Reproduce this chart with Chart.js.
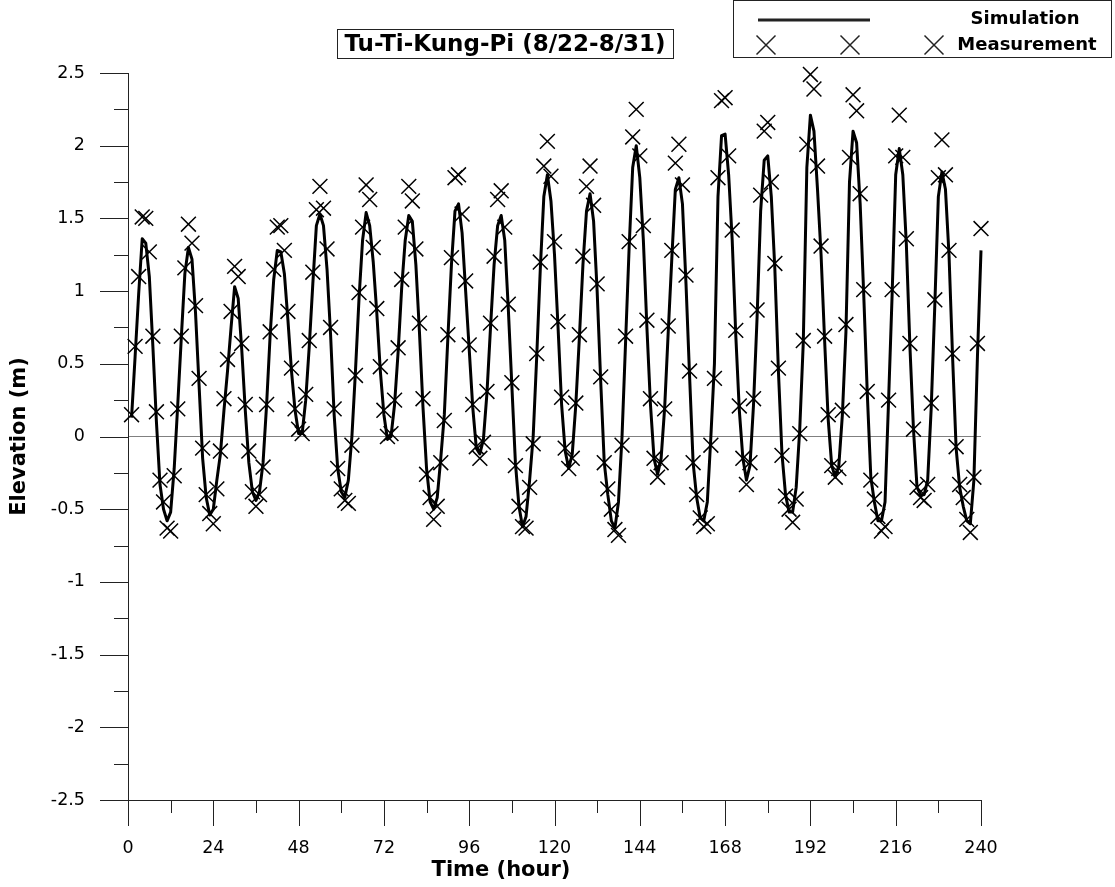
<!DOCTYPE html>
<html>
<head>
<meta charset="utf-8">
<title>Tu-Ti-Kung-Pi (8/22-8/31)</title>
<script src="https://cdn.jsdelivr.net/npm/chart.js@4.4.1/dist/chart.umd.min.js"></script>
<style>
html,body{margin:0;padding:0;background:#fff;}
#wrap{width:1115px;height:887px;}
</style>
</head>
<body>
<div id="wrap"><canvas id="chartTide" width="1115" height="887"></canvas></div>
<script>

// hourly series, first sample at hour 1
const FIRST_HOUR = 1;

const measured = [
 0.15, 0.62, 1.10, 1.51, 1.50, 1.27, 0.69, 0.17,-0.30,-0.45,-0.63,-0.65,
-0.27, 0.19, 0.69, 1.16, 1.46, 1.33, 0.90, 0.40,-0.08,-0.40,-0.53,-0.60,
-0.36,-0.10, 0.26, 0.53, 0.86, 1.17, 1.10, 0.64, 0.22,-0.10,-0.38,-0.48,
-0.40,-0.21, 0.22, 0.72, 1.15, 1.44, 1.45, 1.28, 0.86, 0.47, 0.19, 0.05,
 0.02, 0.29, 0.66, 1.13, 1.56, 1.72, 1.57, 1.29, 0.75, 0.19,-0.22,-0.36,
-0.44,-0.46,-0.06, 0.42, 0.99, 1.44, 1.73, 1.63, 1.30, 0.88, 0.48, 0.18,
 0.00, 0.02, 0.25, 0.61, 1.08, 1.44, 1.72, 1.62, 1.29, 0.78, 0.26,-0.26,
-0.42,-0.57,-0.48,-0.18, 0.11, 0.70, 1.23, 1.78, 1.80, 1.53, 1.07, 0.63,
 0.22,-0.07,-0.15,-0.04, 0.31, 0.78, 1.24, 1.63, 1.69, 1.44, 0.91, 0.37,
-0.20,-0.48,-0.62,-0.63,-0.35,-0.05, 0.57, 1.20, 1.86, 2.03, 1.79, 1.34,
 0.79, 0.27,-0.08,-0.22,-0.15, 0.23, 0.70, 1.24, 1.72, 1.86, 1.59, 1.05,
 0.41,-0.18,-0.36,-0.50,-0.64,-0.68,-0.06, 0.69, 1.34, 2.06, 2.25, 1.93,
 1.45, 0.80, 0.26,-0.15,-0.28,-0.18, 0.19, 0.76, 1.28, 1.88, 2.01, 1.73,
 1.11, 0.45,-0.18,-0.40,-0.56,-0.62,-0.60,-0.06, 0.40, 1.78, 2.31, 2.33,
 1.93, 1.42, 0.73, 0.21,-0.15,-0.33,-0.18, 0.26, 0.87, 1.66, 2.10, 2.16,
 1.75, 1.19, 0.47,-0.13,-0.41,-0.50,-0.59,-0.43, 0.02, 0.66, 2.01, 2.49,
 2.39, 1.86, 1.31, 0.69, 0.15,-0.20,-0.28,-0.22, 0.18, 0.77, 1.92, 2.35,
 2.24, 1.67, 1.01, 0.31,-0.30,-0.43,-0.55,-0.65,-0.62, 0.25, 1.01, 1.93,
 2.21, 1.92, 1.36, 0.64, 0.05,-0.35,-0.42,-0.44,-0.33, 0.23, 0.94, 1.78,
 2.04, 1.80, 1.28, 0.57,-0.07,-0.33,-0.42,-0.57,-0.66,-0.28, 0.64, 1.43
];

const simulated = [
 0.13, 0.55, 0.98, 1.36, 1.33, 1.10, 0.62, 0.10,-0.33,-0.50,-0.58,-0.52,
-0.22, 0.22, 0.68, 1.12, 1.30, 1.22, 0.85, 0.35,-0.15,-0.42,-0.54,-0.50,
-0.30,-0.12, 0.18, 0.45, 0.75, 1.03, 0.95, 0.60, 0.18,-0.18,-0.38,-0.44,
-0.38,-0.18, 0.22, 0.70, 1.08, 1.28, 1.27, 1.12, 0.80, 0.45, 0.18, 0.02,
 0.02, 0.25, 0.62, 1.05, 1.45, 1.53, 1.45, 1.15, 0.70, 0.15,-0.22,-0.38,
-0.42,-0.30, 0.00, 0.45, 0.95, 1.35, 1.54, 1.45, 1.20, 0.85, 0.45, 0.15,
-0.02, 0.00, 0.22, 0.58, 1.02, 1.35, 1.52, 1.48, 1.18, 0.72, 0.20,-0.22,
-0.45,-0.50,-0.42,-0.15, 0.15, 0.68, 1.18, 1.55, 1.60, 1.40, 1.00, 0.60,
 0.20,-0.08,-0.12,-0.02, 0.30, 0.75, 1.18, 1.45, 1.52, 1.35, 0.88, 0.35,
-0.18,-0.48,-0.62,-0.55,-0.30, 0.00, 0.55, 1.15, 1.65, 1.80, 1.62, 1.25,
 0.75, 0.22,-0.10,-0.22,-0.12, 0.22, 0.68, 1.18, 1.55, 1.67, 1.48, 1.00,
 0.38,-0.18,-0.40,-0.58,-0.63,-0.45, 0.00, 0.65, 1.30, 1.85, 2.00, 1.78,
 1.35, 0.75, 0.22,-0.15,-0.26,-0.15, 0.20, 0.72, 1.22, 1.70, 1.78, 1.60,
 1.05, 0.42,-0.18,-0.42,-0.56,-0.58,-0.45, 0.00, 0.50, 1.65, 2.07, 2.08,
 1.80, 1.35, 0.70, 0.18,-0.15,-0.30,-0.20, 0.22, 0.82, 1.55, 1.90, 1.93,
 1.65, 1.15, 0.45,-0.12,-0.40,-0.52,-0.52,-0.35, 0.05, 0.65, 1.85, 2.21,
 2.10, 1.70, 1.25, 0.66, 0.12,-0.20,-0.28,-0.20, 0.15, 0.72, 1.75, 2.10,
 2.02, 1.60, 0.98, 0.30,-0.28,-0.45,-0.58,-0.58,-0.45, 0.25, 0.98, 1.80,
 1.98, 1.80, 1.32, 0.62, 0.05,-0.35,-0.40,-0.40,-0.30, 0.20, 0.90, 1.65,
 1.82, 1.70, 1.25, 0.55,-0.08,-0.35,-0.48,-0.58,-0.60,-0.30, 0.55, 1.28
];

const xTicks = [0,24,48,72,96,120,144,168,192,216,240];
const xMinorTicks = [12,36,60,84,108,132,156,180,204,228];
const yTicks = [-2.5,-2,-1.5,-1,-0.5,0,0.5,1,1.5,2,2.5];
const yMinorTicks = [-2.25,-1.75,-1.25,-0.75,-0.25,0.25,0.75,1.25,1.75,2.25];

const chartTitle = "Tu-Ti-Kung-Pi (8/22-8/31)";
const xTitle = "Time (hour)";
const yTitle = "Elevation (m)";
const simLabel = "Simulation";
const measLabel = "Measurement";

const FONT = "'DejaVu Sans', 'Liberation Sans', Arial, sans-serif";

function toPoints(values){
  return values.map((v,i)=>({x:FIRST_HOUR+i, y:v}));
}

function drawCross(ctx,cx,cy,r){
  ctx.beginPath();
  ctx.moveTo(cx-r,cy-r); ctx.lineTo(cx+r,cy+r);
  ctx.moveTo(cx-r,cy+r); ctx.lineTo(cx+r,cy-r);
  ctx.stroke();
}

/* tick marks outside the axes: long at labels, short in between */
const axisTicks = {
  id:'axisTicks',
  afterDraw(chart){
    const {ctx, chartArea, scales} = chart;
    const x = scales.x, y = scales.y;
    const left = chartArea.left, bottom = chartArea.bottom;
    ctx.save();
    ctx.strokeStyle = '#222';
    ctx.lineWidth = 1;
    ctx.beginPath();
    yTicks.forEach(v=>{
      const py = Math.round(y.getPixelForValue(v))+0.5;
      ctx.moveTo(left-28,py); ctx.lineTo(left,py);
    });
    yMinorTicks.forEach(v=>{
      const py = Math.round(y.getPixelForValue(v))+0.5;
      ctx.moveTo(left-14,py); ctx.lineTo(left,py);
    });
    xTicks.forEach(v=>{
      const px = Math.round(x.getPixelForValue(v))+0.5;
      ctx.moveTo(px,bottom); ctx.lineTo(px,bottom+26);
    });
    xMinorTicks.forEach(v=>{
      const px = Math.round(x.getPixelForValue(v))+0.5;
      ctx.moveTo(px,bottom); ctx.lineTo(px,bottom+13);
    });
    ctx.stroke();
    ctx.restore();
  }
};

/* boxed title, boxed legend and the two axis titles */
const headerBoxes = {
  id:'headerBoxes',
  afterDraw(chart){
    const ctx = chart.ctx;
    const area = chart.chartArea;
    ctx.save();
    ctx.strokeStyle = '#222';
    ctx.lineWidth = 1;
    ctx.fillStyle = '#000';

    // title
    ctx.strokeRect(337.5,29.5,336,29);
    ctx.font = "bold 23px "+FONT;
    ctx.textAlign = 'center';
    ctx.textBaseline = 'middle';
    ctx.fillText(chartTitle,505,45);

    // axis titles
    ctx.font = "bold 21px "+FONT;
    ctx.fillText(xTitle,501,871);
    ctx.save();
    ctx.translate(20,(area.top+area.bottom)/2);
    ctx.rotate(-Math.PI/2);
    ctx.fillText(yTitle,0,0);
    ctx.restore();

    // legend
    ctx.strokeRect(733.5,0.5,378,57);
    ctx.lineWidth = 3;
    ctx.beginPath();
    ctx.moveTo(758,20); ctx.lineTo(870,20);
    ctx.stroke();
    ctx.lineWidth = 1.5;
    [766,850,934].forEach(cx=>drawCross(ctx,cx,45,9.5));
    ctx.font = "bold 18px "+FONT;
    ctx.textAlign = 'center';
    ctx.fillText(simLabel,1025,19);
    ctx.fillText(measLabel,1027,45);
    ctx.restore();
  }
};

new Chart(document.getElementById("chartTide"),{

type:"line",

data:{
datasets:[
{
label:simLabel,
data:toPoints(simulated),
borderColor:"#000",
borderWidth:3,
borderJoinStyle:"round",
pointRadius:0,
tension:0,
clip:false,
order:2
},
{
label:measLabel,
data:toPoints(measured),
showLine:false,
pointStyle:"crossRot",
pointRadius:10.5,
pointBorderWidth:1.5,
pointBorderColor:"#000",
pointBackgroundColor:"#000",
clip:false,
order:1
}
]
},

options:{
responsive:false,
animation:false,
layout:{padding:{top:73,right:134,bottom:0,left:0}},

plugins:{
legend:{display:false},
title:{display:false},
tooltip:{enabled:false}
},

scales:{
x:{
type:"linear",
min:0,
max:240,
afterFit(scale){ scale.height = 87; },
afterBuildTicks(scale){ scale.ticks = xTicks.map(v=>({value:v})); },
grid:{display:false, drawTicks:false},
border:{display:true, color:"#222", width:1},
ticks:{
padding:38,
color:"#000",
font:{family:FONT, size:17.5},
maxRotation:0,
callback:v=>String(v)
}
},

y:{
type:"linear",
min:-2.5,
max:2.5,
afterFit(scale){ scale.width = 128; },
afterBuildTicks(scale){ scale.ticks = yTicks.map(v=>({value:v})); },
grid:{
display:true,
drawTicks:false,
drawOnChartArea:true,
color:c=>(c.tick && c.tick.value===0) ? "#808080" : "rgba(0,0,0,0)",
lineWidth:1
},
border:{display:true, color:"#222", width:1},
ticks:{
padding:43,
color:"#000",
font:{family:FONT, size:17.5},
callback:v=>String(v)
}
}
}

},

plugins:[axisTicks, headerBoxes]

});

</script>
</body>
</html>
